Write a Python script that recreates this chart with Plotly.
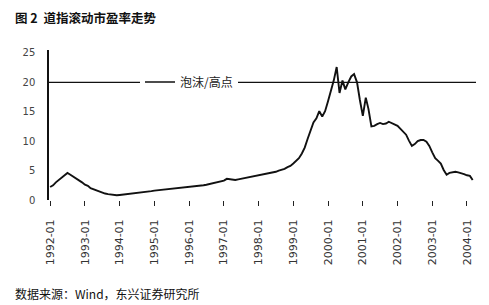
import plotly.graph_objects as go
import pandas as pd

title_text = "图 2  道指滚动市盈率走势"
source_text = "数据来源：Wind，东兴证券研究所"
line_name = "泡沫/高点"
threshold = 20

dates = pd.date_range("1992-01-01", periods=147, freq="MS")
pe_values = [
    2.2, 2.5, 3.0, 3.4, 3.8, 4.2, 4.6, 4.3, 4.0, 3.6, 3.3, 3.0, 2.6, 2.4, 2.0, 1.8,
    1.6, 1.4, 1.3, 1.1, 1.0, 0.9, 0.85, 0.8, 0.85, 0.9, 0.95, 1.0, 1.05, 1.1, 1.15, 1.2,
    1.3, 1.35, 1.45, 1.5, 1.6, 1.65, 1.7, 1.75, 1.8, 1.85, 1.9, 1.95, 2.0, 2.0, 2.1, 2.15,
    2.2, 2.25, 2.3, 2.35, 2.4, 2.5, 2.6, 2.7, 2.8, 2.9, 3.0, 3.1, 3.3, 3.6, 3.5, 3.4,
    3.4, 3.5, 3.6, 3.7, 3.8, 3.9, 4.0, 4.1, 4.2, 4.2, 4.3, 4.4, 4.5, 4.7, 4.8, 5.0,
    5.1, 5.3, 5.6, 5.8, 6.2, 6.6, 7.1, 7.9, 8.9, 10.4, 11.9, 13.2, 13.9, 15.1, 14.2, 15.1,
    16.8, 18.4, 20.3, 22.6, 18.2, 20.3, 18.8, 20.0, 21.0, 21.4, 20.0, 17.0, 14.3, 17.4, 15.5, 12.5,
    12.6, 12.9, 13.1, 12.9, 13.0, 13.3, 13.1, 12.9, 12.6, 12.1, 11.7, 11.1, 10.1, 9.2, 9.5, 10.0,
    10.2, 10.2, 9.9, 9.2, 8.1, 7.1, 6.7, 6.2, 5.1, 4.3, 4.6, 4.7, 4.8, 4.7, 4.6, 4.4,
    4.2, 4.1, 3.4,
]
tick_dates = [f"{y}-01-01" for y in range(1992, 2005)]
tick_labels = [f"{y}-01" for y in range(1992, 2005)]
y_ticks = [0, 5, 10, 15, 20, 25]

cjk = "Noto Sans CJK SC"
OFF = 8  # page body margin
W, H = 489 - OFF, 305 - OFF
L, T = 49 - OFF, 50 - OFF
R, B = 13, 105
PW, PH = W - L - R, H - T - B


def px(x):
    return (x - OFF - L) / PW


def py(y):
    return (H - B - (y - OFF)) / PH


fig = go.Figure()
fig.add_trace(go.Scatter(
    x=list(dates), y=pe_values, mode="lines",
    line=dict(color="#111111", width=1.9), showlegend=False,
))
fig.add_trace(go.Scatter(
    x=[pd.Timestamp("1991-12-20"), pd.Timestamp("2004-04-05")],
    y=[threshold, threshold], mode="lines", name=line_name,
    line=dict(color="#111111", width=1.3), showlegend=True,
))

fig.update_layout(
    width=W, height=H,
    margin=dict(l=L, r=R, t=T, b=B),
    paper_bgcolor="white", plot_bgcolor="white",
    font=dict(family=cjk, color="#222222", size=10),
    legend=dict(
        x=px(140), y=py(82), xanchor="left", yanchor="middle",
        bgcolor="white", borderwidth=0,
        font=dict(family=cjk, size=12, color="#222222"),
    ),
    annotations=[
        dict(text=f"<b>{title_text}</b>", x=px(13), y=py(18),
             xref="paper", yref="paper", xanchor="left", yanchor="middle",
             showarrow=False, font=dict(family=cjk, size=12.5, color="#111111")),
        dict(text=source_text, x=px(13), y=py(293),
             xref="paper", yref="paper", xanchor="left", yanchor="middle",
             showarrow=False, font=dict(family=cjk, size=12, color="#111111")),
    ],
)

fig.update_xaxes(
    type="date", range=["1991-12-20", "2004-04-05"],
    tickvals=tick_dates, ticktext=tick_labels, tickangle=-90,
    showline=False, showgrid=False, zeroline=False,
    ticks="outside", ticklen=5, tickcolor="#222222",
    ticklabelstandoff=9,
    tickfont=dict(family="DejaVu Sans", size=11, color="#333333"),
)
fig.update_yaxes(
    range=[0, 25.5], tickvals=y_ticks,
    showline=True, linecolor="#111111", linewidth=1.5,
    showgrid=False, zeroline=False, ticks="",
    ticklabelstandoff=10,
    tickfont=dict(family="DejaVu Sans", size=10, color="#444444"),
)

fig.write_html("out.html")
